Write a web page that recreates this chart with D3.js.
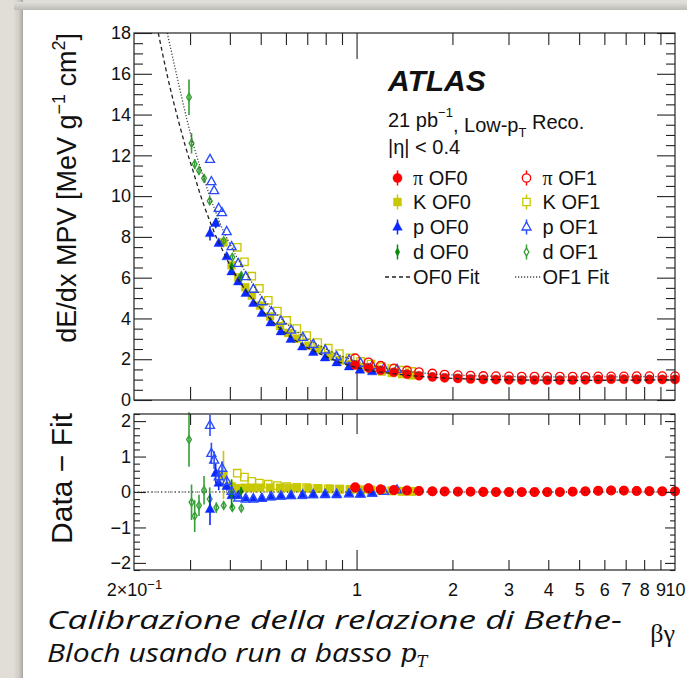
<!DOCTYPE html>
<html><head><meta charset="utf-8">
<script src="https://cdn.jsdelivr.net/npm/d3@7"></script>
<style>html,body{margin:0;padding:0;background:#fff;overflow:hidden} svg{display:block}</style>
</head><body>
<svg id="c" width="687" height="678"></svg>
<script>
// ---------------- DATA ----------------
// pions
const piX      = [0.99,1.09,1.19,1.31,1.44,1.57,1.73,1.89,2.08,2.28,2.50,2.74,3.01,3.30,3.62,3.97,4.35,4.77,5.23,5.74,6.30,6.91,7.58,8.31,9.12,10.0];
const piOF0    = [1.72,1.58,1.46,1.36,1.27,1.19,1.13,1.09,1.06,1.03,1.01,1.00,0.99,0.98,0.98,0.97,0.97,0.98,0.99,1.01,1.02,1.02,1.01,1.01,1.01,1.01];
const piOF1    = [2.05,1.85,1.68,1.55,1.45,1.37,1.30,1.25,1.22,1.20,1.18,1.17,1.16,1.15,1.15,1.15,1.15,1.15,1.15,1.16,1.16,1.16,1.17,1.17,1.17,1.17];
const piResOF0 = [0.14,0.11,0.08,0.06,0.05,0.03,0.02,0.02,0.01,0.01,0.01,0.00,0.00,0.00,0.00,0.00,0.00,0.01,0.02,0.04,0.05,0.04,0.03,0.03,0.02,0.02];
const piResOF1 = [0.12,0.10,0.07,0.05,0.04,0.03,0.02,0.01,0.01,0.01,0.00,0.00,0.00,0.00,0.00,0.00,0.00,0.01,0.02,0.03,0.04,0.04,0.03,0.02,0.02,0.02];
// kaons
const kX0      = [0.382,0.405,0.425,0.447,0.469,0.498,0.535,0.575,0.610,0.649,0.705,0.758,0.825,0.887,0.954,1.03,1.11,1.20,1.29,1.39,1.49];
const kOF0     = [7.73,6.61,6.01,5.53,5.12,4.63,4.10,3.63,3.29,3.01,2.66,2.45,2.14,1.94,1.76,1.61,1.49,1.40,1.33,1.27,1.21];
const kErrOF0  = [0.25,0.1,0,0,0,0,0,0,0,0,0,0,0,0,0,0,0,0,0,0,0];
const kResOF0  = [0.48,0.16,0.11,0.12,0.12,0.12,0.12,0.12,0.11,0.11,0.10,0.10,0.09,0.08,0.07,0.06,0.05,0.04,0.03,0.03,0.02];
const kResErr0 = [0.68,0.2,0.08,0,0,0,0,0,0,0,0,0,0,0,0,0,0,0,0,0,0];
const kX1      = [0.422,0.4445,0.4686,0.495,0.528,0.564,0.603,0.649,0.697,0.755,0.815,0.883,0.954,1.03,1.11,1.20,1.29,1.39,1.49];
const kOF1     = [7.49,6.78,6.07,5.47,4.89,4.36,3.90,3.50,3.16,2.82,2.54,2.28,2.07,1.90,1.76,1.63,1.54,1.46,1.40];
const kResOF1  = [0.53,0.42,0.30,0.25,0.22,0.18,0.15,0.13,0.12,0.10,0.09,0.08,0.07,0.06,0.05,0.04,0.03,0.02,0.02];
// protons
const pX0      = [0.3465,0.361,0.369,0.391,0.405,0.425,0.4485,0.474,0.504,0.537,0.578,0.621,0.675,0.731,0.796,0.866,0.947,1.025,1.12];
const pOF0     = [8.17,8.67,7.69,7.03,6.29,5.80,5.23,4.74,4.25,3.79,3.35,2.98,2.61,2.34,2.07,1.83,1.63,1.47,1.39];
const pErrOF0  = [0.35,0.25,0.15,0.1,0,0,0,0,0,0,0,0,0,0,0,0,0,0,0];
const pResOF0  = [-0.49,0.53,0.25,0.16,-0.10,-0.10,-0.17,-0.18,-0.17,-0.14,-0.12,-0.10,-0.10,-0.08,-0.08,-0.08,-0.05,-0.06,-0.04];
const pResErr0 = [0.44,0.28,0.2,0.12,0.06,0,0,0,0,0,0,0,0,0,0,0,0,0,0];
const pX1      = [0.3465,0.350,0.357,0.369,0.378,0.391,0.405,0.425,0.449,0.474,0.504,0.540,0.579,0.623,0.678,0.731,0.797,0.866,0.947,1.03,1.12,1.22,1.34];
const pOF1     = [11.8,10.71,10.27,9.40,9.19,8.26,7.52,6.70,6.05,5.43,4.82,4.33,3.87,3.43,3.07,2.73,2.45,2.12,1.96,1.80,1.68,1.55,1.50];
const pResOF1  = [1.88,1.09,0.90,0.43,0.67,0.30,0.02,-0.17,-0.20,-0.20,-0.18,-0.13,-0.11,-0.10,-0.08,-0.07,-0.06,-0.06,-0.05,-0.06,-0.03,0.02,0.06];
const pResErr1 = [0.3,0.3,0.25,0.2,0.2,0.1,0.06,0,0,0,0,0,0,0,0,0,0,0,0,0,0,0,0];
// deuterons
const dX0      = [0.405,0.434];
const dOF0     = [6.55,6.02];
const dErrOF0  = [0.2,0.1];
const dResOF0  = [-0.05,0.02];
const dResErr0 = [0.4,0.12];
const dX1      = [0.2977,0.3032,0.3102,0.3200,0.3319,0.3458,0.3627,0.3826,0.4071,0.4345];
const dOF1     = [14.85,12.59,11.57,11.25,10.87,9.76,8.70,7.81,7.00,6.11];
const dErrOF1  = [0.87,0.5,0.25,0.2,0.2,0.15,0.12,0.1,0.1,0.1];
const dResOF1  = [1.48,-0.29,-0.68,-0.38,0.05,-0.20,-0.44,-0.38,-0.44,-0.46];
const dResErr1 = [0.77,0.5,0.45,0.3,0.4,0.33,0.15,0.1,0.1,0.06];
// fit curves
const fit0X = [0.2384,0.2554,0.2754,0.29,0.307,0.325,0.3465,0.3636,0.385,0.405,0.425,0.4485,0.474,0.504,0.537,0.578,0.621,0.675,0.731,0.796,0.866,0.947,1.04,1.15,1.31,1.50,1.75,2.08,2.5,3.0,4.0,5.0,6.3,8.0,10.0];
const fit0Y = [18.0,15.8,13.73,12.45,11.2,9.95,8.75,7.95,7.15,6.45,5.90,5.38,4.90,4.42,3.95,3.48,3.09,2.71,2.42,2.15,1.91,1.70,1.53,1.40,1.29,1.19,1.11,1.05,1.01,0.99,0.97,0.965,0.97,0.98,0.99];
const fit1X = [0.2544,0.2735,0.2928,0.3102,0.3319,0.3458,0.3627,0.3826,0.405,0.425,0.449,0.474,0.504,0.540,0.579,0.623,0.678,0.731,0.797,0.866,0.947,1.03,1.12,1.25,1.40,1.60,1.90,2.3,3.0,4.0,5.5,7.5,10.0];
const fit1Y = [18.0,15.8,13.8,12.3,10.85,10.0,9.15,8.25,7.5,6.87,6.25,5.65,5.05,4.50,4.00,3.56,3.15,2.83,2.52,2.25,2.02,1.84,1.70,1.55,1.43,1.33,1.25,1.19,1.15,1.13,1.13,1.14,1.15];
// axes
const yTicksUpper = [0,2,4,6,8,10,12,14,16,18];
const yTicksLower = [-2,-1,0,1,2];
const xLabelVals  = [0.2,1,2,3,4,5,6,7,8,9,10];
const xMinorVals  = [0.3,0.4,0.5,0.6,0.7,0.8,0.9,2,3,4,5,6,7,8,9];
const legendRows = [
  {sym:"π", lab:" OF0", col:"#ff0000", shape:"circle",   filled:true},
  {sym:"π", lab:" OF1", col:"#ff0000", shape:"circle",   filled:false},
  {sym:"",  lab:"K OF0", col:"#c8c800", shape:"square",  filled:true},
  {sym:"",  lab:"K OF1", col:"#c8c800", shape:"square",  filled:false},
  {sym:"",  lab:"p OF0", col:"#0a28ff", shape:"triangle",filled:true},
  {sym:"",  lab:"p OF1", col:"#2a4cff", shape:"triangle",filled:false},
  {sym:"",  lab:"d OF0", col:"#0b880b", shape:"diamond", filled:true},
  {sym:"",  lab:"d OF1", col:"#35a035", shape:"diamond", filled:false}
];

// ---------------- DRAWING ----------------
const W = 687, H = 678;
const svg = d3.select("#c");
const defs = svg.append("defs");
const gl = defs.append("linearGradient").attr("id","lsh").attr("x1","0").attr("x2","1").attr("y1","0").attr("y2","0");
gl.append("stop").attr("offset","0").attr("stop-color","#dedcd4");
gl.append("stop").attr("offset","0.55").attr("stop-color","#cfcdc6");
gl.append("stop").attr("offset","1").attr("stop-color","#a9a7a1");
const gt = defs.append("linearGradient").attr("id","tsh").attr("x1","0").attr("x2","0").attr("y1","0").attr("y2","1");
gt.append("stop").attr("offset","0").attr("stop-color","#e2e0da");
gt.append("stop").attr("offset","1").attr("stop-color","#bdbbb5");

svg.append("rect").attr("width",W).attr("height",H).attr("fill","#e0ded7");
svg.append("rect").attr("x",14).attr("y",0).attr("width",9).attr("height",H).attr("fill","url(#lsh)");
svg.append("rect").attr("x",14).attr("y",2).attr("width",W).attr("height",8).attr("fill","url(#tsh)");
svg.append("rect").attr("x",23).attr("y",10).attr("width",W).attr("height",H).attr("fill","#ffffff");

const x  = d3.scaleLog().domain([0.2,10]).range([134,675]);
const yU = d3.scaleLinear().domain([0,18]).range([400,33]);
const yL = d3.scaleLinear().domain([-2.2,2.2]).range([570,414]);
const FONT = "'Liberation Sans', Arial, Helvetica, sans-serif";

defs.append("clipPath").attr("id","clipU").append("rect").attr("x",134).attr("y",33).attr("width",541).attr("height",367);

function circlePath(r){return `M${r},0A${r},${r} 0 1,1 ${-r},0A${r},${r} 0 1,1 ${r},0Z`;}
const shapes = {
  circle:   {f: circlePath(4.6), o: circlePath(4.2)},
  square:   {f: "M-4,-4H4V4H-4Z", o: "M-3.7,-3.7H3.7V3.7H-3.7Z"},
  triangle: {f: "M0,-5.4L4.8,3.2H-4.8Z", o: "M0,-5.1L4.5,3H-4.5Z"},
  diamond:  {f: "M0,-4.2L2.3,0L0,4.2L-2.3,0Z", o: "M0,-3.9L2.4,0L0,3.9L-2.4,0Z"}
};

function drawSeries(g, xs, ys, errs, ysc, shape, filled, color){
  const data = xs.map((v,i)=>({x:v, y:ys[i], e: errs ? errs[i] : 0}));
  const grp = g.append("g");
  grp.selectAll("line").data(data.filter(d=>d.e>0)).join("line")
    .attr("x1",d=>x(d.x)).attr("x2",d=>x(d.x))
    .attr("y1",d=>ysc(d.y-d.e)).attr("y2",d=>ysc(d.y+d.e))
    .attr("stroke",color).attr("stroke-width",1.6);
  grp.selectAll("path").data(data).join("path")
    .attr("transform",d=>`translate(${x(d.x)},${ysc(d.y)})`)
    .attr("d", filled ? shapes[shape].f : shapes[shape].o)
    .attr("fill", filled ? color : "none")
    .attr("stroke", color)
    .attr("stroke-width", filled ? 0.4 : 1.35);
}

const C = {pi:"#ff0000", k:"#c8c800", p0:"#0a28ff", p1:"#2a4cff", d0:"#0b880b", d1:"#35a035"};

// ---------- upper panel ----------
const up = svg.append("g");
drawSeries(up, kX1, kOF1, null, yU, "square", false, C.k);
drawSeries(up, kX0, kOF0, kErrOF0, yU, "square", true, C.k);
drawSeries(up, dX1, dOF1, dErrOF1, yU, "diamond", false, C.d1);
drawSeries(up, pX0, pOF0, pErrOF0, yU, "triangle", true, C.p0);
drawSeries(up, dX0, dOF0, dErrOF0, yU, "diamond", true, C.d0);
drawSeries(up, pX1, pOF1, null, yU, "triangle", false, C.p1);
drawSeries(up, piX, piOF1, null, yU, "circle", false, C.pi);
drawSeries(up, piX, piOF0, null, yU, "circle", true, C.pi);

const lineU = d3.line().x(d=>x(d[0])).y(d=>yU(d[1])).curve(d3.curveMonotoneX);
const fits = up.append("g").attr("clip-path","url(#clipU)");
fits.append("path").attr("d", lineU(fit0X.map((v,i)=>[v,fit0Y[i]])))
  .attr("fill","none").attr("stroke","#222").attr("stroke-width",1.3).attr("stroke-dasharray","4,3");
fits.append("path").attr("d", lineU(fit1X.map((v,i)=>[v,fit1Y[i]])))
  .attr("fill","none").attr("stroke","#444").attr("stroke-width",1.3).attr("stroke-dasharray","1.2,1.8");

// ---------- lower panel ----------
const lo = svg.append("g");
lo.append("line").attr("x1",134).attr("x2",675).attr("y1",yL(0)).attr("y2",yL(0))
  .attr("stroke","#333").attr("stroke-width",1.2).attr("stroke-dasharray","1.2,2.2");
drawSeries(lo, kX1, kResOF1, null, yL, "square", false, C.k);
drawSeries(lo, kX0, kResOF0, kResErr0, yL, "square", true, C.k);
drawSeries(lo, dX1, dResOF1, dResErr1, yL, "diamond", false, C.d1);
drawSeries(lo, pX0, pResOF0, pResErr0, yL, "triangle", true, C.p0);
drawSeries(lo, dX0, dResOF0, dResErr0, yL, "diamond", true, C.d0);
drawSeries(lo, pX1, pResOF1, pResErr1, yL, "triangle", false, C.p1);
drawSeries(lo, piX, piResOF1, null, yL, "circle", false, C.pi);
drawSeries(lo, piX, piResOF0, null, yL, "circle", true, C.pi);
lo.append("line").attr("x1",134).attr("x2",675).attr("y1",yL(0)).attr("y2",yL(0))
  .attr("stroke","#111").attr("stroke-width",1.1).attr("stroke-dasharray","1,3.5").attr("opacity",0.8);

// ---------- axes ----------
function styleAxis(g){ g.select(".domain").remove(); g.selectAll(".tick line").attr("stroke","#222").attr("stroke-width",1.1);
  g.attr("font-family",FONT).attr("font-size",18); g.selectAll("text").attr("fill","#111"); }

function minorVals(lo_, hi_, step){ const a=[]; for(let v=lo_; v<=hi_+1e-9; v+=step) a.push(+v.toFixed(3)); return a; }
const yMinorU = minorVals(0,18,0.5).filter(v=>v%2!==0);
const yMinorL = minorVals(-2.2,2.2,0.2).filter(v=>Math.abs(v-Math.round(v))>1e-6);

// upper y
svg.append("g").attr("transform","translate(134,0)").call(d3.axisLeft(yU).tickValues(yTicksUpper).tickSize(-18).tickPadding(3).tickFormat(d3.format("d"))).call(styleAxis);
svg.append("g").attr("transform","translate(134,0)").call(d3.axisLeft(yU).tickValues(yMinorU).tickSize(-9).tickFormat("")).call(styleAxis);
svg.append("g").attr("transform","translate(675,0)").call(d3.axisRight(yU).tickValues(yTicksUpper).tickSize(-18).tickFormat("")).call(styleAxis);
svg.append("g").attr("transform","translate(675,0)").call(d3.axisRight(yU).tickValues(yMinorU).tickSize(-9).tickFormat("")).call(styleAxis);
// upper x ticks
svg.append("g").attr("transform","translate(0,400)").call(d3.axisBottom(x).tickValues(xMinorVals).tickSize(-13).tickFormat("")).call(styleAxis);
svg.append("g").attr("transform","translate(0,400)").call(d3.axisBottom(x).tickValues([1]).tickSize(-27).tickFormat("")).call(styleAxis);
svg.append("g").attr("transform","translate(0,33)").call(d3.axisTop(x).tickValues(xMinorVals).tickSize(-12).tickFormat("")).call(styleAxis);
svg.append("g").attr("transform","translate(0,33)").call(d3.axisTop(x).tickValues([1]).tickSize(-26).tickFormat("")).call(styleAxis);

// lower y
const fmtMinus = v => (v<0 ? "\u2212"+Math.abs(v) : String(v));
svg.append("g").attr("transform","translate(134,0)").call(d3.axisLeft(yL).tickValues(yTicksLower).tickSize(-12).tickPadding(3).tickFormat(fmtMinus)).call(styleAxis);
svg.append("g").attr("transform","translate(134,0)").call(d3.axisLeft(yL).tickValues(yMinorL).tickSize(-6).tickFormat("")).call(styleAxis);
svg.append("g").attr("transform","translate(675,0)").call(d3.axisRight(yL).tickValues(yTicksLower).tickSize(-10).tickFormat("")).call(styleAxis);
svg.append("g").attr("transform","translate(675,0)").call(d3.axisRight(yL).tickValues(yMinorL).tickSize(-5).tickFormat("")).call(styleAxis);
// lower x
svg.append("g").attr("transform","translate(0,570)").call(d3.axisBottom(x).tickValues(xMinorVals).tickSize(-10).tickFormat("")).call(styleAxis);
svg.append("g").attr("transform","translate(0,570)").call(d3.axisBottom(x).tickValues([1]).tickSize(-20).tickFormat("")).call(styleAxis);
svg.append("g").attr("transform","translate(0,414)").call(d3.axisTop(x).tickValues(xMinorVals).tickSize(-11).tickFormat("")).call(styleAxis);
svg.append("g").attr("transform","translate(0,414)").call(d3.axisTop(x).tickValues([1]).tickSize(-20).tickFormat("")).call(styleAxis);
const xl = svg.append("g").attr("transform","translate(0,570)")
  .call(d3.axisBottom(x).tickValues(xLabelVals).tickSize(0).tickPadding(13).tickFormat(d=> d===0.2 ? "" : String(d)))
  .call(styleAxis);
const t02 = xl.selectAll(".tick").filter(d=>d===0.2).select("text");
t02.append("tspan").text("2\u00d710");
t02.append("tspan").attr("font-size",13).attr("dy","-0.55em").text("\u22121");

// frames
svg.append("rect").attr("x",134).attr("y",33).attr("width",541).attr("height",367).attr("fill","none").attr("stroke","#222").attr("stroke-width",1.2);
svg.append("rect").attr("x",134).attr("y",414).attr("width",541).attr("height",156).attr("fill","none").attr("stroke","#222").attr("stroke-width",1.2);

// axis titles
const yt = svg.append("text").attr("transform","translate(76,33) rotate(-90)").attr("text-anchor","end")
  .attr("font-family",FONT).attr("font-size",27).attr("fill","#111");
yt.append("tspan").text("dE/dx MPV [MeV g");
yt.append("tspan").attr("font-size",18).attr("dy","-0.6em").text("\u22121");
yt.append("tspan").attr("dy","0.4em").text(" cm");
yt.append("tspan").attr("font-size",18).attr("dy","-0.6em").text("2");
yt.append("tspan").attr("dy","0.4em").text("]");
svg.append("text").attr("transform","translate(72,413) rotate(-90)").attr("text-anchor","end")
  .attr("font-family",FONT).attr("font-size",30).attr("fill","#111").text("Data \u2212 Fit");
svg.append("text").attr("x",675).attr("y",642).attr("text-anchor","end")
  .attr("font-family","'Liberation Serif', 'DejaVu Serif', serif").attr("font-size",26).attr("fill","#111").text("βγ");

// ---------- legend ----------
const lg = svg.append("g").attr("font-family",FONT).attr("fill","#111");
lg.append("text").attr("x",388).attr("y",91).attr("font-size",30).attr("font-weight","bold").attr("font-style","italic").text("ATLAS");
const t1 = lg.append("text").attr("x",388).attr("y",127).attr("font-size",20);
t1.append("tspan").text("21 pb");
t1.append("tspan").attr("font-size",13).attr("dy","-0.75em").text("\u22121");
t1.append("tspan").attr("dy","0.75em").text(", Low-p");
t1.append("tspan").attr("font-size",13).attr("dy","0.4em").text("T");
t1.append("tspan").attr("dy","-0.4em").text(" Reco.");
lg.append("text").attr("x",388).attr("y",154).attr("font-size",20).text("|η| < 0.4");

const rowY = [178,202,227,252];
legendRows.forEach((r,i)=>{
  const col = i%2, row = Math.floor(i/2);
  const mx = col===0 ? 397.5 : 526.5, tx = col===0 ? 413 : 542.5, cy = rowY[row];
  lg.append("line").attr("x1",mx).attr("x2",mx).attr("y1",cy-7.5).attr("y2",cy+7.5).attr("stroke",r.col).attr("stroke-width",1.5);
  lg.append("path").attr("transform",`translate(${mx},${cy})`).attr("d", r.filled ? shapes[r.shape].f : shapes[r.shape].o)
    .attr("fill", r.filled ? r.col : "#fff").attr("stroke", r.col).attr("stroke-width", r.filled?0.4:1.3);
  const t = lg.append("text").attr("x",tx).attr("y",cy+7).attr("font-size",20);
  if (r.sym) t.append("tspan").attr("font-family","'Liberation Serif', serif").text(r.sym);
  t.append("tspan").text(r.lab);
});
lg.append("line").attr("x1",385).attr("x2",411).attr("y1",277).attr("y2",277).attr("stroke","#222").attr("stroke-width",1.3).attr("stroke-dasharray","4,3");
lg.append("text").attr("x",413).attr("y",284).attr("font-size",20).text("OF0 Fit");
lg.append("line").attr("x1",515).attr("x2",541).attr("y1",277).attr("y2",277).attr("stroke","#444").attr("stroke-width",1.3).attr("stroke-dasharray","1.2,1.8");
lg.append("text").attr("x",542.5).attr("y",284).attr("font-size",20).text("OF1 Fit");

// ---------- caption ----------
const CAP = "'Open Sans', 'Noto Sans', sans-serif";
svg.append("text").attr("x",47).attr("y",629).attr("font-family",CAP).attr("font-style","italic").attr("font-size",26).attr("fill","#111")
  .attr("textLength",575).attr("lengthAdjust","spacingAndGlyphs")
  .text("Calibrazione della relazione di Bethe-");
svg.append("text").attr("x",47).attr("y",662).attr("font-family",CAP).attr("font-style","italic").attr("font-size",26).attr("fill","#111")
  .attr("textLength",345).attr("lengthAdjust","spacingAndGlyphs")
  .text("Bloch usando run a basso");
const c2 = svg.append("text").attr("x",400).attr("y",662).attr("font-family","'DejaVu Serif', 'Liberation Serif', serif").attr("fill","#111");
c2.append("tspan").attr("font-style","italic").attr("font-size",26).text("p");
c2.append("tspan").attr("font-style","italic").attr("font-size",16).attr("dy","0.3em").text("T");
</script>
</body></html>
